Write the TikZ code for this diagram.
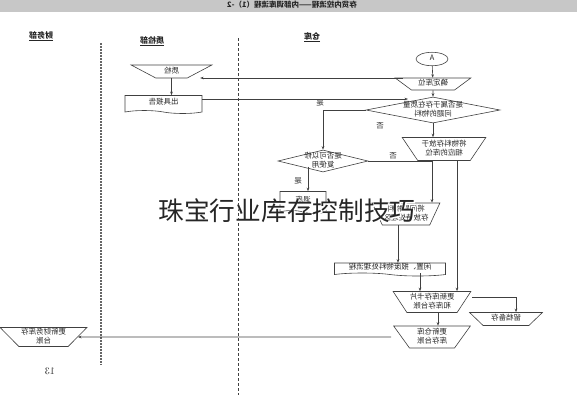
\documentclass[tikz,border=0pt]{standalone}
\usepackage{fontspec}
\usepackage{graphicx}
\newfontfamily\cjk{Noto Sans CJK SC}
\newfontfamily\cjkhalo[FakeBold=5]{Noto Sans CJK SC}
\usetikzlibrary{shapes.geometric,shapes.symbols,arrows.meta}
% mirrored text, as printed in the scan
\newcommand\flip[1]{\reflectbox{\begin{tabular}{@{}c@{}}#1\end{tabular}}}
\tikzset{
  lab/.style={font=\cjk\fontsize{7.5}{9.5}\selectfont, text=black!85, inner sep=0pt},
  hdr/.style={font=\cjk\bfseries\fontsize{8}{9}\selectfont, text=black!85, inner sep=0pt},
  box/.style={lab, draw=black!75},
  manop/.style={box, trapezium, shape border rotate=180, trapezium stretches=true},
  docbox/.style={box, tape, tape bend top=none, tape bend bottom=out and in, tape bend height=3pt},
  dia/.style={draw=black!75, diamond, inner sep=0pt},
  arr/.style={-{Stealth[length=3.5pt,width=2.6pt]}},
}
\begin{document}
\begin{tikzpicture}[x=1pt,y=-1pt,line width=0.6pt,draw=black!75]
\useasboundingbox (0,0) rectangle (577,400);
\fill[black!22] (0,0) rectangle (577,12);
\node[hdr, font=\cjk\bfseries\fontsize{7.5}{9}\selectfont] (title) at (292,6) {\flip{存货内控流程——内部调库流程（1）-2}};
\node[hdr] (hfin) at (41,36) {\flip{\underline{财务部}}};
\node[hdr] (hqc) at (152,41) {\flip{\underline{质检部}}};
\node[hdr] (hstore) at (312,37) {\flip{\underline{仓库}}};
\draw[black!60, line width=1.2pt, dash pattern=on 1.5pt off 1.5pt] (101,43) -- (101,365);
\draw[dash pattern=on 3pt off 2pt] (238,38) -- (238,395);

% store
\node[box, ellipse, minimum width=32pt, minimum height=12pt] (A) at (432,59) {\flip{A}};
\node[manop, minimum width=76pt, minimum height=12pt, trapezium angle=40] (t1) at (433,84) {\flip{确定库位}};
\node[dia, minimum width=134pt, minimum height=26pt, label={[lab]center:\flip{是否属于存在质量\\问题的物料}}] (d1) at (433,110) {};
\node[manop, minimum width=84pt, minimum height=23pt, trapezium angle=55] (t2) at (444,149) {\flip{将物料存放于\\相应的库位}};
\node[dia, minimum width=90pt, minimum height=22pt, label={[lab]center:\flip{是否可以修\\复使用}}] (d2) at (323,161) {};
\node[docbox, minimum width=46pt, minimum height=22pt] (b1) at (303,201) {\flip{退库}};
\node[manop, minimum width=68pt, minimum height=22pt, trapezium angle=63] (t3) at (406,214) {\flip{将问题物料\\存放待处理区}};
\node[docbox, minimum width=111pt, minimum height=13pt] (b2) at (390,268) {\flip{闲置、报废物料处理流程}};
\node[manop, minimum width=78pt, minimum height=21pt, trapezium angle=57] (t4) at (432,302) {\flip{更新库存卡片\\和库存台账}};
\node[manop, minimum width=73pt, minimum height=13pt, trapezium angle=47] (t5) at (506,319) {\flip{留档备存}};
\node[manop, minimum width=77pt, minimum height=22pt, trapezium angle=61] (t6) at (432,337) {\flip{更新仓库\\库存台账}};
\node[lab] (y1) at (320,104) {\flip{是}};
\node[lab] (n1) at (380,127) {\flip{否}};
\node[lab] (n2) at (393,157) {\flip{否}};
\node[lab] (y2) at (298,182) {\flip{是}};

% quality check
\node[manop, minimum width=81pt, minimum height=13pt, trapezium angle=39] (chk) at (171.5,71.5) {\flip{质检}};
\node[docbox, minimum width=77pt, minimum height=18pt] (rep) at (163.5,103) {\flip{出具报告}};

% finance
\node[manop, minimum width=87pt, minimum height=18pt, trapezium angle=48] (t7) at (43.5,337) {\flip{更新财务库存\\台账}};
\node[font=\fontsize{10}{11}\selectfont, text=black!85] (pg) at (50,372) {\flip{13}};

\coordinate (d1in) at (408,99);
\draw[arr] (A) -- (t1);
\draw[arr] (t1) -- (d1);
\draw[arr] ([yshift=6pt]t1.west) -- ([yshift=6pt]t1.west -| chk.east);
\draw[arr] (chk.south) -- (chk.south |- rep.north);
\draw[arr] (rep.east |- d1in) -- (d1in);
\draw[arr] (d1.west) -| (d2.north);
\draw[arr] (d1.south) -- (d1.south |- t2.north);
\draw[arr] (d2.east) -| ([xshift=26pt]t3.north);
\draw[arr] ([xshift=5pt]b1.north |- d2.south west) -- ([xshift=5pt]b1.north);
\draw[arr] ([xshift=-8pt]t3.south) -- ([xshift=-8pt]t3.south |- b2.north);
\draw[arr] ([xshift=30pt]b2.south) -- ([xshift=30pt]b2.south |- t4.north);
\draw[arr] ([xshift=13pt]t2.south) -- ([xshift=13pt]t2.south |- t4.north);
\draw[arr] ([xshift=8pt,yshift=5pt]t4.east) -| ([xshift=10pt]t5.north);
\draw[arr] ([xshift=6pt]t4.south) -- ([xshift=6pt]t4.south |- t6.north);
\draw[arr] ([xshift=-10pt]t6.west) -- (t7.east);

% watermark with a white halo
\node[font=\cjkhalo\fontsize{25.7}{26}\selectfont, text=white] (wmhalo) at (287,211) {珠宝行业库存控制技巧};
\node[font=\cjk\fontsize{25.7}{26}\selectfont, text=black!85] (wm) at (287,211) {珠宝行业库存控制技巧};
\end{tikzpicture}
\end{document}
